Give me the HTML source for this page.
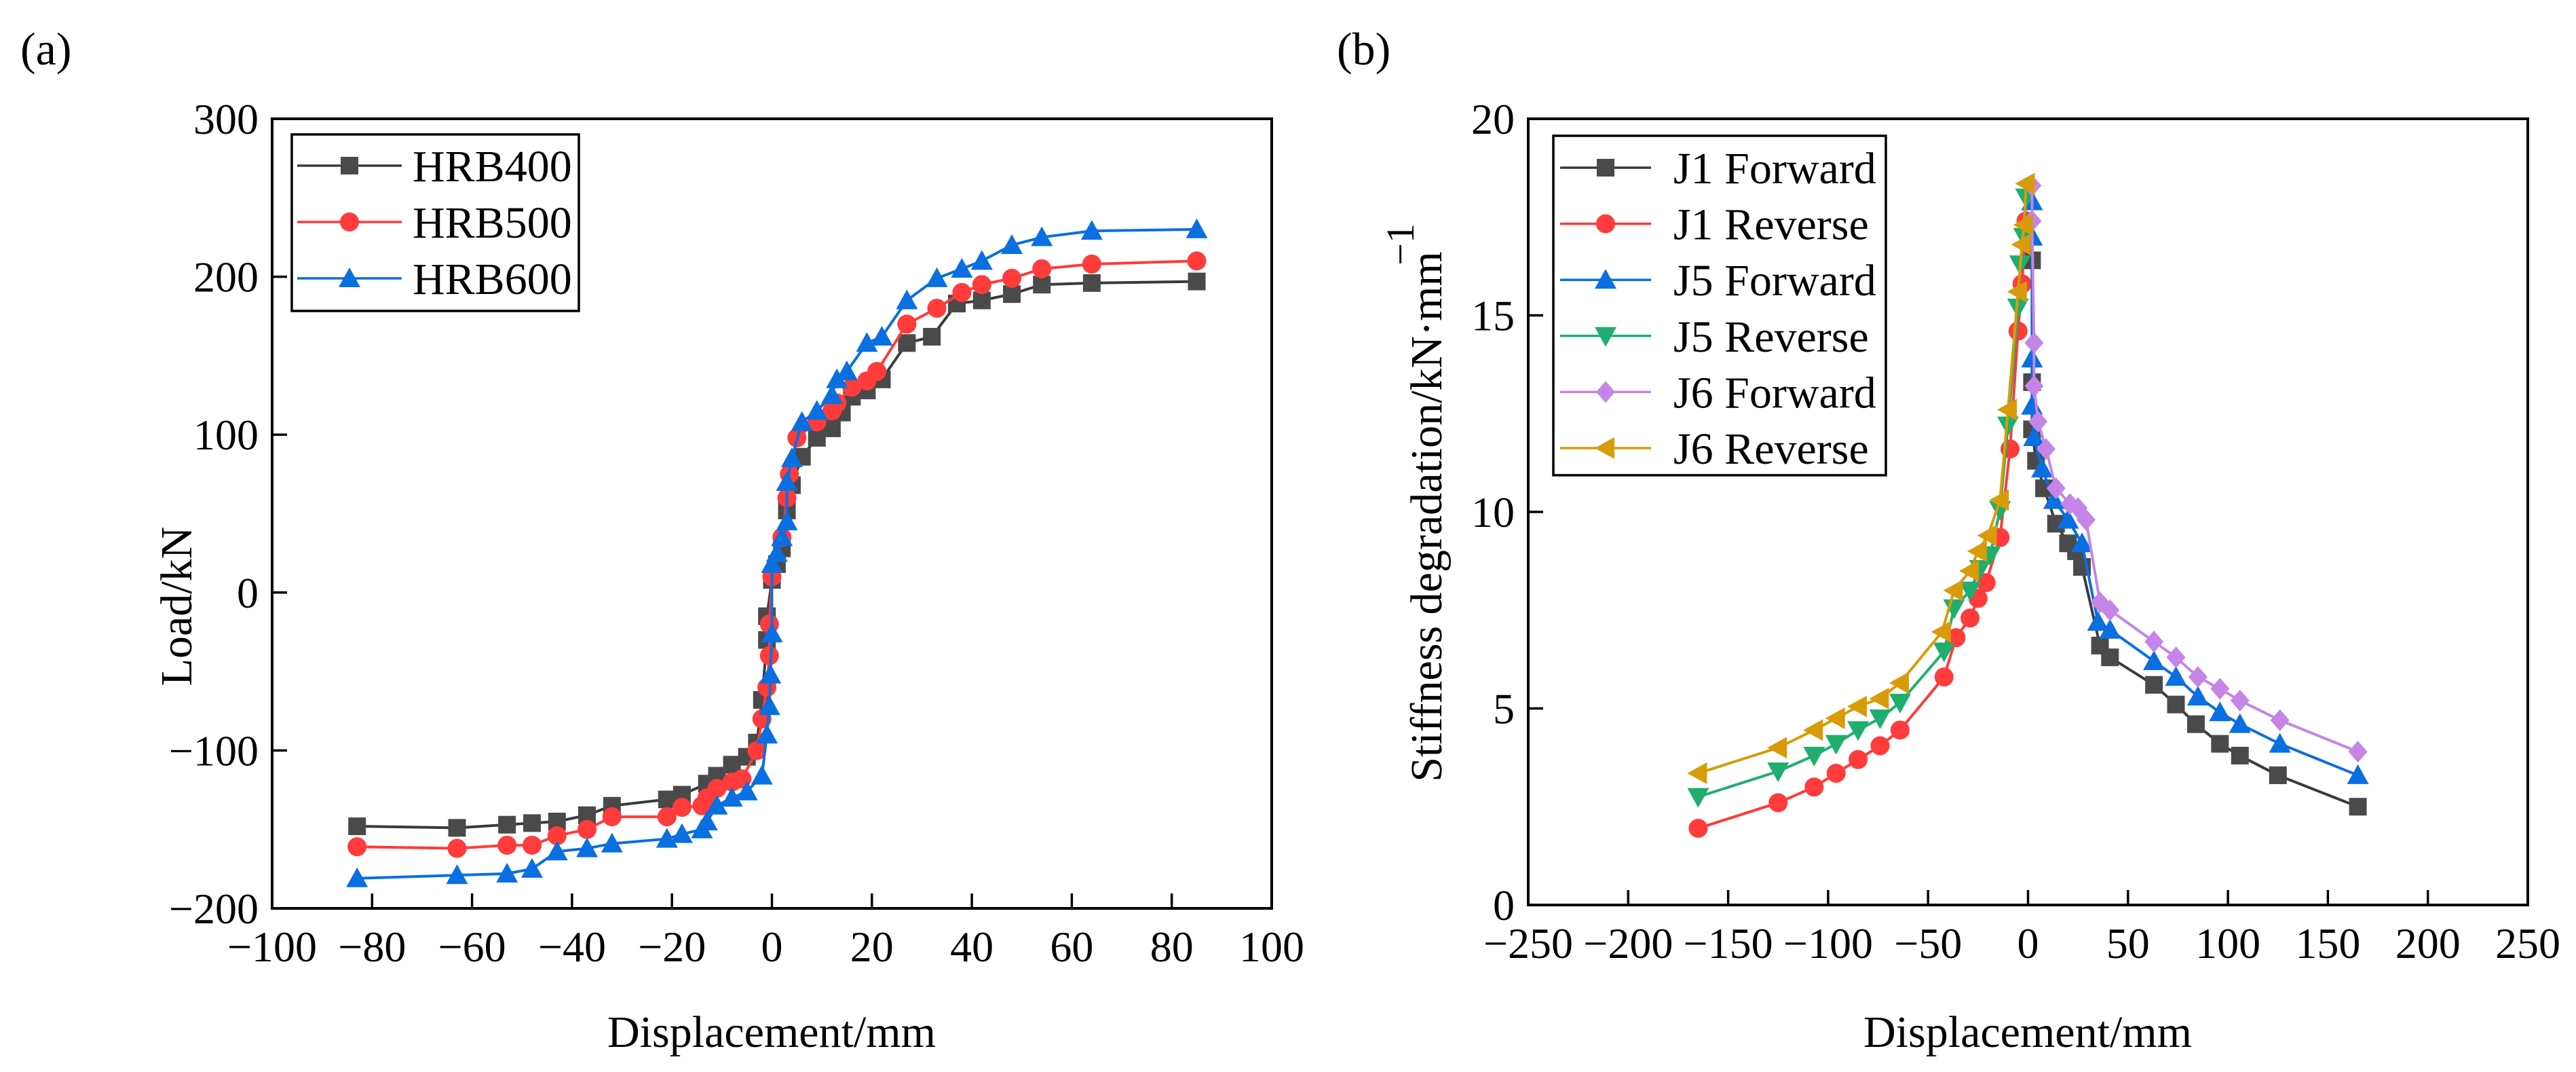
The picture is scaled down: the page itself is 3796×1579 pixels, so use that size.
<!DOCTYPE html>
<html><head><meta charset="utf-8"><style>
html,body{margin:0;padding:0;background:#fff;}
svg{display:block;font-family:"Liberation Serif","Times New Roman",serif;}
</style></head><body>
<svg id="fig" width="3796" height="1579" viewBox="0 0 3796 1579" xmlns="http://www.w3.org/2000/svg">
<text x="30" y="95" font-size="68">(a)</text>
<text x="1970" y="95" font-size="68">(b)</text>
<g id="ga"></g>
<g id="gb"></g>
</svg>
<script>
// ---------- Chart A data ----------
const aXTicks = [-100,-80,-60,-40,-20,0,20,40,60,80,100];
const aYTicks = [-200,-100,0,100,200,300];
const hrb400X = [-83,-63,-53,-48,-43,-37,-32,-21,-18,-13,-11,-8,-5,-3,-2,-1,-1,0,1,2,3,4,6,9,12,14,16,19,22,27,32,37,42,48,54,64,85];
const hrb400Y = [-148,-149,-147,-146,-145,-141,-135,-131,-128,-121,-116,-109,-104,-95,-68,-30,-15,8,18,28,52,68,86,98,104,114,124,128,135,158,162,183,185,189,195,196,197];
const hrb500X = [-83,-63,-53,-48,-43,-37,-32,-21,-18,-14,-13,-11,-8,-6,-3,-2,-1,-0.5,-0.5,0,2,3,3.5,5,9,12,13,16,19,21,27,33,38,42,48,54,64,85];
const hrb500Y = [-161,-162,-160,-160,-154,-150,-142,-142,-136,-135,-130,-124,-120,-118,-100,-80,-60,-40,-20,10,35,60,75,98,108,115,120,130,134,140,170,180,190,195,199,205,208,210];
const hrb600X = [-83,-63,-53,-48,-43,-37,-32,-21,-18,-14,-13,-11,-8,-5,-2,-1,-0.5,-0.3,0,0,1,2,3,3,4,6,9,12,13,15,19,22,27,33,38,42,48,54,64,85];
const hrb600Y = [-181,-179,-178,-175,-164,-162,-159,-156,-153,-150,-145,-135,-130,-126,-116,-90,-72,-52,-26,18,25,35,45,70,85,108,115,125,135,140,158,162,185,199,205,210,220,225,229,230];
const aNames = ["HRB400","HRB500","HRB600"];

// ---------- Chart B data ----------
const bXTicks = [-250,-200,-150,-100,-50,0,50,100,150,200,250];
const bYTicks = [0,5,10,15,20];
const j1fX = [2,2,2,4,8,14,20,24,27,36,41,63,74,84,96,106,125,165];
const j1fY = [16.4,13.3,12.1,11.3,10.6,9.7,9.2,9.0,8.6,6.6,6.3,5.6,5.1,4.6,4.1,3.8,3.3,2.5];
const j1rX = [-165,-125,-107,-96,-85,-74,-64,-42,-36,-29,-25,-21,-14,-9,-5,-3,-1];
const j1rY = [1.95,2.6,3.0,3.35,3.7,4.05,4.45,5.8,6.8,7.3,7.8,8.2,9.35,11.6,14.6,15.8,17.4];
const j5fX = [2,2,2,2,3,7,13,20,27,35,41,63,74,85,96,106,126,165];
const j5fY = [17.9,17.0,13.9,12.7,11.9,11.1,10.3,9.8,9.2,7.2,7.0,6.2,5.8,5.3,4.9,4.6,4.1,3.3];
const j5rX = [-165,-125,-107,-96,-85,-74,-64,-42,-37,-29,-24,-19,-14,-10,-5,-4,-2,-1];
const j5rY = [2.75,3.4,3.8,4.1,4.45,4.75,5.15,6.45,7.55,8.0,8.55,8.9,10.05,12.2,15.2,16.3,17.0,18.0];
const j6fX = [2,2,3,3,5,9,14,21,25,29,36,41,63,74,85,96,106,126,165];
const j6fY = [18.3,17.4,14.3,13.2,12.3,11.6,10.6,10.2,10.1,9.8,7.7,7.5,6.7,6.3,5.8,5.5,5.2,4.7,3.9];
const j6rX = [-165,-125,-107,-96,-85,-74,-64,-43,-37,-29,-25,-20,-14,-10,-5,-3,-2,-1];
const j6rY = [3.35,4.0,4.45,4.75,5.05,5.25,5.65,6.95,8.0,8.5,9.0,9.4,10.3,12.6,15.6,16.8,17.3,18.35];
const bNames = ["J1 Forward","J1 Reverse","J5 Forward","J5 Reverse","J6 Forward","J6 Reverse"];

const NS="http://www.w3.org/2000/svg";
function mk(tag, parent, attrs){const e=document.createElementNS(NS,tag);for(const k in attrs)e.setAttribute(k,attrs[k]);parent.appendChild(e);return e;}

function marker(g, shape, cx, cy, color){
  const s=13; let e;
  if(shape==='sq') e=mk('rect',g,{x:cx-s,y:cy-s,width:2*s,height:2*s,fill:color});
  else if(shape==='ci') e=mk('circle',g,{cx:cx,cy:cy,r:s+1,fill:color});
  else if(shape==='tu') e=mk('polygon',g,{points:`${cx},${cy-s-3} ${cx-s-3},${cy+s} ${cx+s+3},${cy+s}`,fill:color});
  else if(shape==='td') e=mk('polygon',g,{points:`${cx},${cy+s+3} ${cx-s-3},${cy-s} ${cx+s+3},${cy-s}`,fill:color});
  else if(shape==='di') e=mk('polygon',g,{points:`${cx},${cy-s-3} ${cx+s+1},${cy} ${cx},${cy+s+3} ${cx-s-1},${cy}`,fill:color});
  else if(shape==='tl') e=mk('polygon',g,{points:`${cx-s-3},${cy} ${cx+s},${cy-s-3} ${cx+s},${cy+s+3}`,fill:color});
  
  
  return e;
}

function drawChart(g, cfg){
  const {L,R,T,B,xmin,xmax,ymin,ymax,xticks,yticks}=cfg;
  const sx=v=>L+(v-xmin)/(xmax-xmin)*(R-L);
  const sy=v=>B-(v-ymin)/(ymax-ymin)*(B-T);
  // series
  cfg.series.forEach((s,i)=>{
    const sg=mk('g',g,{});
    
    
    const pts=s.x.map((v,j)=>sx(v)+','+sy(s.y[j])).join(' ');
    const pl=mk('polyline',sg,{points:pts,fill:'none',stroke:s.line,'stroke-width':4,'stroke-linejoin':'round'});
    
    
    s.x.forEach((v,j)=>marker(sg,s.shape,sx(v),sy(s.y[j]),s.color));
  });
  // frame
  const fr=mk('rect',g,{x:L,y:T,width:R-L,height:B-T,fill:'none',stroke:'#000','stroke-width':4});
  
  
  // ticks
  const xa=mk('g',g,{});
  
  
  xticks.forEach(t=>{
    const x=sx(t);
    mk('line',xa,{x1:x,y1:B,x2:x,y2:B-22,stroke:'#000','stroke-width':3.5});
    const tx=mk('text',xa,{x:x,y:B+78,'font-size':64,'text-anchor':'middle'});
    tx.textContent=(t<0?'\u2212':'')+Math.abs(t);
    
    
  });
  const ya=mk('g',g,{});
  
  
  yticks.forEach(t=>{
    const y=sy(t);
    mk('line',ya,{x1:L,y1:y,x2:L+22,y2:y,stroke:'#000','stroke-width':3.5});
    const tx=mk('text',ya,{x:L-20,y:y+22,'font-size':64,'text-anchor':'end'});
    tx.textContent=(t<0?'\u2212':'')+Math.abs(t);
    
    
  });
  // legend
  const lg=mk('g',g,{});
  
  
  const lb=cfg.legend;
  mk('rect',lg,{x:lb.x,y:lb.y,width:lb.w,height:lb.h,fill:'#fff',stroke:'#000','stroke-width':3.5});
  cfg.series.forEach((s,i)=>{
    const y=lb.r0+i*lb.dr;
    const eg=mk('g',lg,{});
    
    
    mk('line',eg,{x1:lb.l1,y1:y,x2:lb.l2,y2:y,stroke:s.line,'stroke-width':3.5});
    marker(eg,s.shape,(lb.l1+lb.l2)/2,y,s.color);
    const t=mk('text',eg,{x:lb.tx,y:y+23,'font-size':66});
    t.textContent=s.name;
  });
}

drawChart(document.getElementById('ga'),{
  L:401,R:1874,T:175,B:1338,xmin:-100,xmax:100,ymin:-200,ymax:300,xticks:aXTicks,yticks:aYTicks,
  series:[
    {name:aNames[0],x:hrb400X,y:hrb400Y,color:'#4a4a4a',line:'#3a3a3a',shape:'sq'},
    {name:aNames[1],x:hrb500X,y:hrb500Y,color:'#ff3b3b',line:'#ff3b3b',shape:'ci'},
    {name:aNames[2],x:hrb600X,y:hrb600Y,color:'#0a6fe0',line:'#0a6fe0',shape:'tu'}],
  legend:{x:430,y:198,w:423,h:260,r0:244,dr:83,l1:438,l2:592,tx:608}
});
drawChart(document.getElementById('gb'),{
  L:2252,R:3725,T:175,B:1333,xmin:-250,xmax:250,ymin:0,ymax:20,xticks:bXTicks,yticks:bYTicks,
  series:[
    {name:bNames[0],x:j1fX,y:j1fY,color:'#4a4a4a',line:'#3a3a3a',shape:'sq'},
    {name:bNames[1],x:j1rX,y:j1rY,color:'#ff3b3b',line:'#ff3b3b',shape:'ci'},
    {name:bNames[2],x:j5fX,y:j5fY,color:'#0a6fe0',line:'#0a6fe0',shape:'tu'},
    {name:bNames[3],x:j5rX,y:j5rY,color:'#1fae6e',line:'#1fae6e',shape:'td'},
    {name:bNames[4],x:j6fX,y:j6fY,color:'#c585e6',line:'#c585e6',shape:'di'},
    {name:bNames[5],x:j6rX,y:j6rY,color:'#d89c0a',line:'#d89c0a',shape:'tl'}],
  legend:{x:2289,y:200,w:490,h:500,r0:247,dr:82.6,l1:2299,l2:2433,tx:2466}
});

// axis titles
const svg=document.getElementById('fig');
function title(txt,x,y,rot,name){
  const t=mk('text',svg,{x:x,y:y,'font-size':66,'text-anchor':'middle',transform:rot?`rotate(-90 ${x} ${y})`:''});
  t.textContent=txt;
  
  
  return t;
}
title('Displacement/mm',1137,1542,false,'x-axis-title-a');
title('Load/kN',282,893,true,'y-axis-title-a');
title('Displacement/mm',2988,1542,false,'x-axis-title-b');
title('Stiffness degradation/kN\u00b7mm',2124,761,true,'y-axis-title-b');
const sup=mk('text',svg,{x:2083,y:360,'font-size':58,'text-anchor':'middle',transform:'rotate(-90 2083 360)'});
sup.textContent='\u22121';


</script>
</body></html>
